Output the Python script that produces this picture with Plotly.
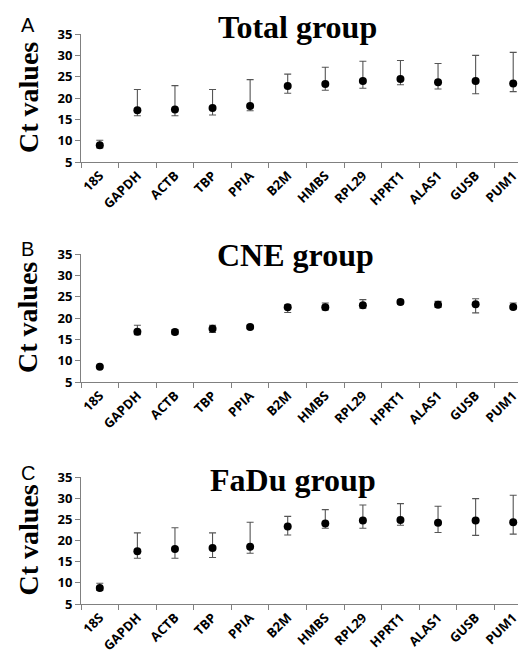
import plotly.graph_objects as go

genes = ["18S", "GAPDH", "ACTB", "TBP", "PPIA", "B2M", "HMBS", "RPL29", "HPRT1", "ALAS1", "GUSB", "PUM1"]

# Panel A: Total group (mean, max, min)
total_mean = [8.9, 17.1, 17.3, 17.65, 18.1, 22.8, 23.3, 24.0, 24.45, 23.7, 24.0, 23.4]
total_max = [10.1, 22.0, 22.9, 22.0, 24.3, 25.6, 27.2, 28.6, 28.8, 28.1, 30.0, 30.7]
total_min = [8.3, 15.85, 15.85, 16.0, 17.0, 21.1, 21.8, 22.3, 23.1, 22.1, 21.0, 21.5]

# Panel B: CNE group
cne_mean = [8.6, 16.8, 16.7, 17.5, 17.9, 22.5, 22.5, 23.0, 23.75, 23.1, 23.2, 22.6]
cne_max = [8.8, 18.3, 17.3, 18.3, 18.3, 23.1, 23.5, 24.3, 24.2, 23.9, 24.5, 23.5]
cne_min = [8.4, 16.1, 16.2, 16.6, 17.5, 21.3, 21.9, 22.3, 23.3, 22.5, 21.2, 22.1]

# Panel C: FaDu group
fadu_mean = [8.75, 17.45, 18.0, 18.2, 18.5, 23.3, 24.0, 24.7, 24.85, 24.2, 24.7, 24.3]
fadu_max = [9.9, 21.8, 23.0, 21.8, 24.3, 25.7, 27.3, 28.4, 28.7, 28.1, 29.9, 30.7]
fadu_min = [8.2, 15.8, 15.8, 16.0, 17.0, 21.3, 22.9, 22.9, 23.6, 21.9, 21.2, 21.5]

y_ticks = [5, 10, 15, 20, 25, 30, 35]

panels = [
    ("A", "Total group", total_mean, total_max, total_min),
    ("B", "CNE group", cne_mean, cne_max, cne_min),
    ("C", "FaDu group", fadu_mean, fadu_max, fadu_min),
]

W, H = 526, 653
# pixel positions (top, bottom) of plot areas
plot_px = [(26, 154), (246, 374), (469, 596)]
title_px = [19, 247, 472]
title_x = [289, 287, 285]
label_px = [17, 241, 465]
x_left, x_right = 73, 524

fig = go.Figure()
for i, (lab, title, mean, mx, mn) in enumerate(panels):
    n = i + 1
    xa = "x" if n == 1 else f"x{n}"
    ya = "y" if n == 1 else f"y{n}"
    fig.add_trace(go.Scatter(
        x=genes, y=mean, mode="markers",
        marker=dict(color="black", size=8),
        error_y=dict(type="data", symmetric=False,
                     array=[a - m for a, m in zip(mx, mean)],
                     arrayminus=[m - b for m, b in zip(mean, mn)],
                     color="#555555", thickness=1.1, width=3.5),
        xaxis=xa, yaxis=ya, showlegend=False, cliponaxis=False,
    ))
    top, bot = plot_px[i]
    dom_y = [1 - bot / H, 1 - top / H]
    axis_common = dict(showline=True, linecolor="#808080", linewidth=1, mirror=False,
                       showgrid=False, zeroline=False, ticks="outside", ticklen=5,
                       tickcolor="#808080", tickwidth=1, automargin=False)
    fig.layout[("xaxis" if n == 1 else f"xaxis{n}")] = dict(
        domain=[x_left / W, x_right / W], anchor=ya, type="category",
        tickson="boundaries", tickangle=-45,
        tickfont=dict(family="Open Sans", size=13, color="black", weight="bold"),
        range=[-0.5, 11.5], **axis_common)
    fig.layout[("yaxis" if n == 1 else f"yaxis{n}")] = dict(
        domain=dom_y, anchor=xa, range=[5, 35], tickvals=y_ticks,
        tickfont=dict(family="Open Sans", size=13, color="black", weight="bold"),
        **axis_common)
    fig.add_annotation(xref="paper", yref="paper", x=20 / W, y=1 - (top + bot) / 2 / H,
                       text="Ct values", showarrow=False, textangle=-90,
                       xanchor="center", yanchor="middle",
                       font=dict(family="Liberation Serif", size=28, color="black", weight="bold"))
    fig.add_annotation(xref="paper", yref="paper", x=title_x[i] / W, y=1 - title_px[i] / H,
                       text=title, showarrow=False, xanchor="center", yanchor="middle",
                       font=dict(family="Liberation Serif", size=32, color="black", weight="bold"))
    fig.add_annotation(xref="paper", yref="paper", x=11 / W, y=1 - label_px[i] / H,
                       text=lab, showarrow=False, xanchor="left", yanchor="middle",
                       font=dict(family="Liberation Sans", size=20, color="black"))

fig.update_layout(width=W, height=H, autosize=False,
                  margin=dict(l=0, r=0, t=0, b=0),
                  paper_bgcolor="white", plot_bgcolor="white")
fig.write_html("out.html")
